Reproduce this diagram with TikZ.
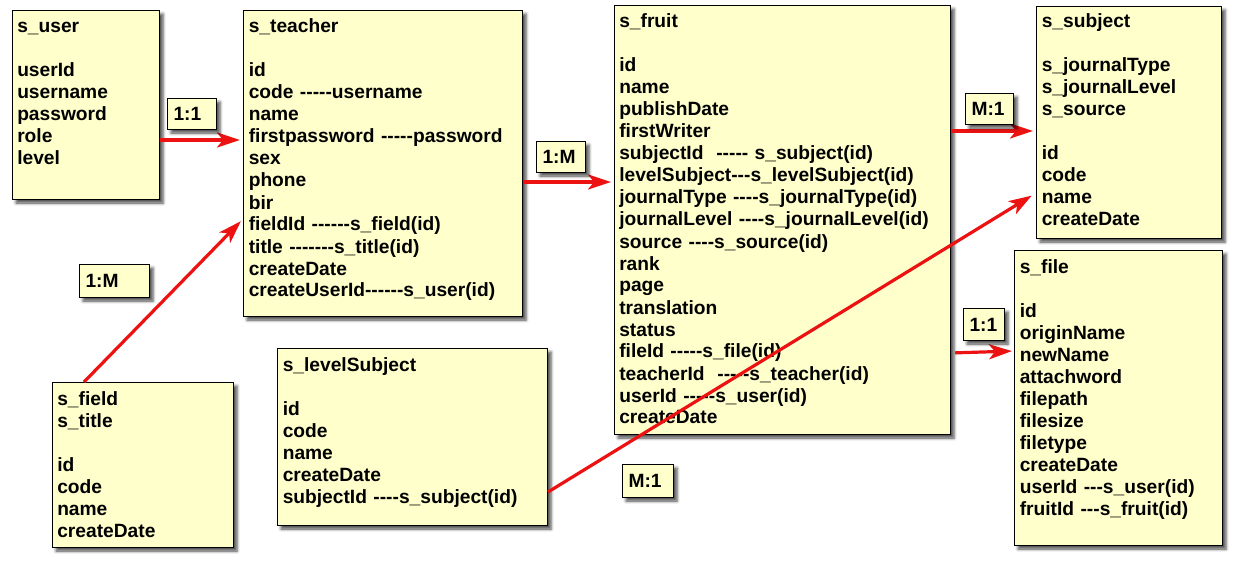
\documentclass[tikz,border=0pt]{standalone}
\usepackage{fontspec}
\newfontfamily\erfont{Liberation Sans}
\usetikzlibrary{arrows.meta,shadows.blur}
\newdimen\px \px=0.75pt
\definecolor{tablefill}{RGB}{255,255,204}
\definecolor{relred}{RGB}{236,18,18}
\tikzset{
  soft shadow/.style={blur shadow={shadow xshift=3.5\px, shadow yshift=-3.5\px,
      shadow blur radius=3\px, shadow opacity=70}},
  tbl/.style={draw=black, line width=1\px, fill=tablefill, soft shadow,
      inner sep=0pt, anchor=north west},
  erfont/.style={font=\erfont\bfseries\fontsize{14.4pt}{16.5pt}\selectfont},
  fields/.style={erfont, anchor=base west, inner sep=0pt, align=left,
      text width=330\px},
  tag/.style={tbl, erfont, inner xsep=6\px, inner ysep=0pt, align=left},
  rel/.style={draw=relred, line width=2.4pt,
      -{Stealth[length=17.25pt, width=11.25pt, inset=4.5pt]}},
}
\begin{document}
\begin{tikzpicture}[x=0.75pt, y=-0.75pt]
\useasboundingbox (0,0) rectangle (1234,560);

% table boxes
\node[tbl, minimum width=147\px, minimum height=189\px] (user)    at (12,10)   {};
\node[tbl, minimum width=279\px, minimum height=306\px] (teacher) at (243,10)  {};
\node[tbl, minimum width=336\px, minimum height=429\px] (fruit)   at (614,5)   {};
\node[tbl, minimum width=185\px, minimum height=232\px] (subject) at (1036,6)  {};
\node[tbl, minimum width=208\px, minimum height=295\px] (file)    at (1014,250) {};
\node[tbl, minimum width=181\px, minimum height=165\px] (field)   at (52,382)  {};
\node[tbl, minimum width=270\px, minimum height=177\px] (level)   at (277,348) {};

% table contents
\node[fields] (userTxt) at ([shift={(5\px,-23\px)}]user.north west)
  {s\_user\\[16.5pt]
   userId\\ username\\ password\\ role\\ level};
\node[fields] (teacherTxt) at ([shift={(5.5\px,-23\px)}]teacher.north west)
  {s\_teacher\\[16.5pt]
   id\\ code -----username\\ name\\ firstpassword -----password\\ sex\\ phone\\ bir\\
   fieldId ------s\_field(id)\\ title -------s\_title(id)\\ createDate\\
   createUserId------s\_user(id)};
\node[fields] (fruitTxt) at ([shift={(5\px,-23\px)}]fruit.north west)
  {s\_fruit\\[16.5pt]
   id\\ name\\ publishDate\\ firstWriter\\ subjectId~ ----- s\_subject(id)\\
   levelSubject---s\_levelSubject(id)\\ journalType ----s\_journalType(id)\\
   journalLevel ----s\_journalLevel(id)\\ source ----s\_source(id)\\ rank\\ page\\
   translation\\ status\\ fileId -----s\_file(id)\\ teacherId~ -----s\_teacher(id)\\
   userId -----s\_user(id)\\ createDate};
\node[fields] (subjectTxt) at ([shift={(5.5\px,-22\px)}]subject.north west)
  {s\_subject\\[16.5pt]
   s\_journalType\\ s\_journalLevel\\ s\_source\\[16.5pt]
   id\\ code\\ name\\ createDate};
\node[fields] (fileTxt) at ([shift={(5.5\px,-23\px)}]file.north west)
  {s\_file\\[16.5pt]
   id\\ originName\\ newName\\ attachword\\ filepath\\ filesize\\ filetype\\
   createDate\\ userId ---s\_user(id)\\ fruitId ---s\_fruit(id)};
\node[fields] (fieldTxt) at ([shift={(5\px,-23\px)}]field.north west)
  {s\_field\\ s\_title\\[16.5pt]
   id\\ code\\ name\\ createDate};
\node[fields] (levelTxt) at ([shift={(5.5\px,-23\px)}]level.north west)
  {s\_levelSubject\\[16.5pt]
   id\\ code\\ name\\ createDate\\ subjectId ----s\_subject(id)};

% relationship arrows
\draw[rel, shorten >=2.25pt] (user.east |- 0,140) -- (teacher.west |- 0,140);
\draw[rel, shorten >=2.25pt] (teacher.east |- 0,182) -- (fruit.west |- 0,182);
\draw[rel, shorten >=2.25pt] (fruit.east |- 0,131) -- (subject.west |- 0,131);
\draw[rel, shorten <=3pt, shorten >=1.5pt] (fruit.east |- 0,353) -- (file.west |- 0,351);
\draw[rel, shorten >=2.25pt] (field.north -| 84,0) -- (teacher.west |- 0,219);
\draw[rel, shorten >=3.75pt] (level.east |- 0,492) -- (subject.west |- 0,193);

% cardinality tags
\node[tag, text width=37\px, minimum height=31\px] (tagUT) at (167,98)  {1:1};
\node[tag, text width=37\px, minimum height=31\px] (tagTF) at (536,141) {1:M};
\node[tag, text width=36\px, minimum height=31\px] (tagFS) at (965,93)  {M:1};
\node[tag, text width=29\px, minimum height=32\px] (tagFF) at (963,308) {1:1};
\node[tag, text width=58\px, minimum height=33\px] (tagFT) at (79,264)  {1:M};
\node[tag, text width=39\px, minimum height=33\px] (tagLS) at (622,464) {M:1};
\end{tikzpicture}
\end{document}
